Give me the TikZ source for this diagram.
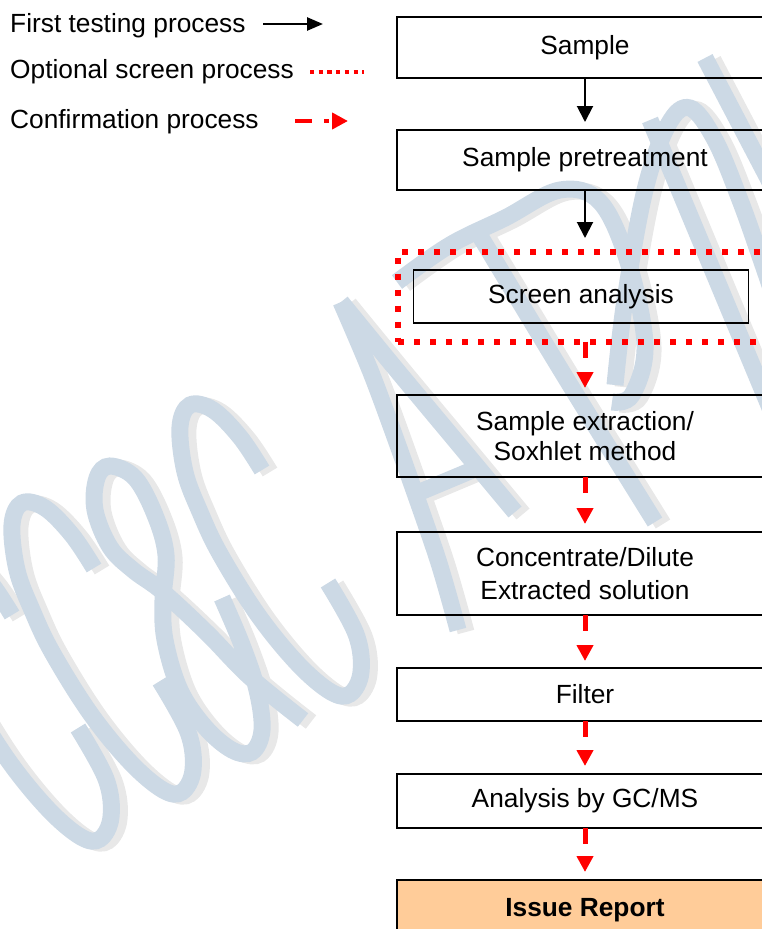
\documentclass[tikz,border=0pt]{standalone}
\usepackage{fontspec}
\setmainfont{Liberation Sans}
\usetikzlibrary{arrows.meta}
\definecolor{wmblue}{RGB}{204,217,229}
\definecolor{wmgray}{RGB}{232,232,232}
\definecolor{issuefill}{RGB}{255,204,153}
\begin{document}
\begin{tikzpicture}[x=1pt,y=-1pt,
  wmsh/.style={draw=wmgray,line width=17pt,shift={(8,2)}},
  wmbl/.style={draw=wmblue,line width=17pt},
  txt/.style={font=\fontsize{26.3}{31}\selectfont},
  box/.style={draw=black,line width=2pt,minimum width=376pt,outer sep=0pt,inner sep=0pt,align=center,txt},
  firstarrow/.style={draw=black,line width=2pt,-{Triangle[length=16pt,width=16pt]}},
  confarrow/.style={draw=red,line width=5pt,dash pattern=on 16pt off 20pt,-{Triangle[length=16pt,width=16pt]}},
  legtxt/.style={txt,anchor=base west,inner sep=0pt}
]
\useasboundingbox (0,0) rectangle (761,929);

% ---------------- watermark ----------------
\foreach \st in {wmsh,wmbl}{
  \foreach \dx/\dy in {-82/47,0/0,168/-98}{
    \draw[\st,shift={(\dx,\dy)}] plot[smooth,tension=0.6] coordinates
      {(94,568) (72,535) (45,508) (22,503) (12,525) (17,570) (32,610) (52,652) (90,713) (130,762) (163,790) (182,792) (193,770) (188,732) (160,681)};
  }
  \draw[\st] plot[smooth,tension=0.6] coordinates
    {(303,720) (250,677) (207,633) (163,592) (133,570) (110,547) (95,510) (97,478) (110,466) (135,478) (155,515) (166,555) (163,600) (165,640) (180,690) (205,727) (232,750) (252,752) (262,730) (257,690) (242,645) (222,598)};
  % A
  \draw[\st] plot[smooth,tension=0.5] coordinates {(458,630) (438,560) (405,465) (372,375) (341,302)};
  \draw[\st] plot[smooth,tension=0.5] coordinates {(341,302) (395,368) (455,440) (515,512)};
  \draw[\st] (420,492) -- (482,466);
  % P
  \draw[\st] plot[smooth,tension=0.5] coordinates {(480,236) (567,380) (655,522)};
  \draw[\st] plot[smooth,tension=0.6] coordinates {(397,282) (450,245) (505,218) (560,190) (600,202) (628,262) (645,345) (632,395) (612,402)};
  % P
  \draw[\st] plot[smooth,tension=0.6] coordinates {(615,385) (625,300) (645,190) (668,125) (690,108) (715,140) (740,200) (762,262) (785,330)};
  \draw[\st] (650,120) -- (775,420);
  % R
  \draw[\st] (705,58) -- (795,230);
}

% ---------------- legend ----------------
\node[legtxt] (lg1) at (10,32) {First testing process};
\node[legtxt] (lg2) at (10,78) {Optional screen process};
\node[legtxt] (lg3) at (10,128) {Confirmation process};
\coordinate (la1) at (263,24);
\coordinate (lb1) at (323,24);
\coordinate (la2) at (310,72);
\coordinate (lb2) at (364,72);
\coordinate (la3) at (295,121);
\coordinate (lb3) at (348,121);
\draw[black,line width=2.5pt,-{Triangle[length=16pt,width=13pt]}] (la1) -- (lb1);
\draw[red,line width=4.5pt,dash pattern=on 4.2pt off 4.5pt] (la2) -- (lb2);
\draw[red,line width=4pt,dash pattern=on 17pt off 12pt on 5pt off 20pt,-{Triangle[length=16pt,width=16pt]}] (la3) -- (lb3);

% ---------------- flow chart ----------------
\node[box,minimum height=61pt] (sample) at (585,47.5) {Sample};
\node[box,minimum height=60pt] (pre) at (585,160) {Sample pretreatment};
\node[draw=red,line width=6pt,dash pattern=on 6pt off 10pt,minimum width=392pt,minimum height=90pt,outer sep=0pt,inner sep=0pt] (dotted) at (594,296.5) {};
\node[draw=black,line width=1.5pt,minimum width=335pt,minimum height=53pt,outer sep=0pt,inner sep=0pt,txt] (screen) at (581,296.5) {Screen analysis};
\node[box,minimum height=82pt,font=\fontsize{26.3}{30}\selectfont] (ext) at (585,436) {Sample extraction/\\Soxhlet method};
\node[box,minimum height=83pt,font=\fontsize{26.3}{32.5}\selectfont] (conc) at (585,573.5) {Concentrate/Dilute\\Extracted solution};
\node[box,minimum height=53pt] (filter) at (585,694.5) {Filter};
\node[box,minimum height=54pt] (gcms) at (585,801) {Analysis by GC/MS};
\node[box,minimum height=60pt,fill=issuefill,font=\fontsize{26.3}{31}\selectfont\bfseries] (issue) at (585,910) {Issue Report};

\draw[firstarrow,shorten >=8pt] (sample) -- (pre);
\draw[firstarrow,shorten >=13.5pt] (pre.south) -- (pre.south |- dotted.north);
\draw[confarrow,shorten >=7pt] (dotted.south -| ext.north) -- (ext.north);
\draw[confarrow,shorten >=8pt] (ext) -- (conc);
\draw[confarrow,shorten >=7pt] (conc) -- (filter);
\draw[confarrow,shorten >=8pt] (filter) -- (gcms);
\draw[confarrow,shorten >=8pt] (gcms) -- (issue);
\end{tikzpicture}
\end{document}
